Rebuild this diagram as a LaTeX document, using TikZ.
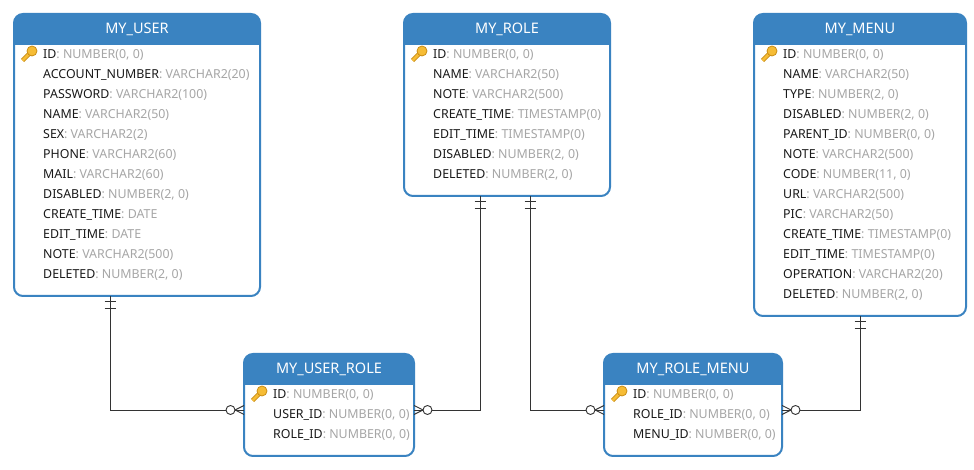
\documentclass[tikz,border=0pt]{standalone}
\usepackage{fontspec}
\setmainfont{Noto Sans}
\usetikzlibrary{positioning}
\definecolor{hdr}{HTML}{3A83C1}
\definecolor{typegray}{HTML}{A6A6A6}
\definecolor{ln}{HTML}{333333}
\definecolor{keyfill}{HTML}{F6BC35}
\definecolor{keyedge}{HTML}{C98D14}
\newcommand{\fld}[2]{#1\textcolor{typegray}{: #2}}
\newcommand{\tblhead}[2]{%
  \begin{scope}
    \clip (#1.north west) rectangle ([yshift=-31pt]#1.north east);
    \fill[hdr,rounded corners=9pt] (#1.south west) rectangle (#1.north east);
  \end{scope}
  \node[titletxt,below=0pt of #1.north] (#1title) {#2};
  \begin{scope}[shift={([xshift=15pt,yshift=-40pt]#1.north west)}]
    \draw[keyedge,line width=4.4pt] (-6.5,-6.5) -- (2,2);
    \draw[keyfill,line width=2.6pt] (-6.5,-6.5) -- (2,2);
    \draw[keyedge,fill=keyfill,line width=.8pt] (3,3) circle (5);
  \end{scope}}
\newcommand{\crowfoot}[2]{%
  \begin{scope}[shift={(#1)},xscale=#2]
    \draw[rel] (0,4.5) -- (9,0) -- (0,-4.5);
    \draw[rel,fill=white] (13.5,0) circle (4.5);
  \end{scope}}
\newcommand{\onebars}[1]{%
  \begin{scope}[shift={(#1)}]
    \draw[rel] (-5.5,-5) -- (5.5,-5) (-5.5,-12) -- (5.5,-12);
  \end{scope}}
\tikzset{
  tbl/.style={draw=hdr,line width=2pt,fill=white,rounded corners=9pt,outer sep=0pt,inner sep=0pt,anchor=north west},
  titletxt/.style={text=white,font=\fontsize{14.5}{17}\selectfont,minimum height=31pt,inner sep=0pt},
  rows/.style={align=left,inner sep=0pt,text=black!90,font=\fontsize{12.4}{20}\selectfont},
  rel/.style={draw=ln,line width=.9pt},
}
\begin{document}
\begin{tikzpicture}[x=1pt,y=1pt]
  \useasboundingbox[fill=white] (0,0) rectangle (974,470);
  % tables
  \node[tbl,minimum width=246pt,minimum height=282pt] (user) at (14,456) {};
  \node[tbl,minimum width=206pt,minimum height=182pt] (role) at (404,456) {};
  \node[tbl,minimum width=212pt,minimum height=302pt] (menu) at (754,456) {};
  \node[tbl,minimum width=170pt,minimum height=102pt] (userrole) at (244,116) {};
  \node[tbl,minimum width=178pt,minimum height=102pt] (rolemenu) at (604,116) {};
  \tblhead{user}{MY\_USER}
  \tblhead{role}{MY\_ROLE}
  \tblhead{menu}{MY\_MENU}
  \tblhead{userrole}{MY\_USER\_ROLE}
  \tblhead{rolemenu}{MY\_ROLE\_MENU}
  % columns
  \node[rows,below right=35.5pt and 29pt of user.north west] (userrows) {\fld{ID}{NUMBER(0, 0)}\\
    \fld{ACCOUNT\_NUMBER}{VARCHAR2(20)}\\
    \fld{PASSWORD}{VARCHAR2(100)}\\
    \fld{NAME}{VARCHAR2(50)}\\
    \fld{SEX}{VARCHAR2(2)}\\
    \fld{PHONE}{VARCHAR2(60)}\\
    \fld{MAIL}{VARCHAR2(60)}\\
    \fld{DISABLED}{NUMBER(2, 0)}\\
    \fld{CREATE\_TIME}{DATE}\\
    \fld{EDIT\_TIME}{DATE}\\
    \fld{NOTE}{VARCHAR2(500)}\\
    \fld{DELETED}{NUMBER(2, 0)}};
  \node[rows,below right=35.5pt and 29pt of role.north west] (rolerows) {\fld{ID}{NUMBER(0, 0)}\\
    \fld{NAME}{VARCHAR2(50)}\\
    \fld{NOTE}{VARCHAR2(500)}\\
    \fld{CREATE\_TIME}{TIMESTAMP(0)}\\
    \fld{EDIT\_TIME}{TIMESTAMP(0)}\\
    \fld{DISABLED}{NUMBER(2, 0)}\\
    \fld{DELETED}{NUMBER(2, 0)}};
  \node[rows,below right=35.5pt and 29pt of menu.north west] (menurows) {\fld{ID}{NUMBER(0, 0)}\\
    \fld{NAME}{VARCHAR2(50)}\\
    \fld{TYPE}{NUMBER(2, 0)}\\
    \fld{DISABLED}{NUMBER(2, 0)}\\
    \fld{PARENT\_ID}{NUMBER(0, 0)}\\
    \fld{NOTE}{VARCHAR2(500)}\\
    \fld{CODE}{NUMBER(11, 0)}\\
    \fld{URL}{VARCHAR2(500)}\\
    \fld{PIC}{VARCHAR2(50)}\\
    \fld{CREATE\_TIME}{TIMESTAMP(0)}\\
    \fld{EDIT\_TIME}{TIMESTAMP(0)}\\
    \fld{OPERATION}{VARCHAR2(20)}\\
    \fld{DELETED}{NUMBER(2, 0)}};
  \node[rows,below right=35.5pt and 29pt of userrole.north west] (userrolerows) {\fld{ID}{NUMBER(0, 0)}\\
    \fld{USER\_ID}{NUMBER(0, 0)}\\
    \fld{ROLE\_ID}{NUMBER(0, 0)}};
  \node[rows,below right=35.5pt and 29pt of rolemenu.north west] (rolemenurows) {\fld{ID}{NUMBER(0, 0)}\\
    \fld{ROLE\_ID}{NUMBER(0, 0)}\\
    \fld{MENU\_ID}{NUMBER(0, 0)}};
  % relations
  \draw[rel] ([xshift=-27pt]user.south) |- ([yshift=-5pt]userrole.west);
  \draw[rel] ([xshift=-27pt]role.south) |- ([yshift=-5pt]userrole.east);
  \draw[rel] ([xshift=23pt]role.south) |- ([yshift=-5pt]rolemenu.west);
  \draw[rel] (menu.south) |- ([yshift=-5pt]rolemenu.east);
  \onebars{[xshift=-27pt]user.south}
  \onebars{[xshift=-27pt]role.south}
  \onebars{[xshift=23pt]role.south}
  \onebars{menu.south}
  \crowfoot{[yshift=-5pt]userrole.west}{-1}
  \crowfoot{[yshift=-5pt]userrole.east}{1}
  \crowfoot{[yshift=-5pt]rolemenu.west}{-1}
  \crowfoot{[yshift=-5pt]rolemenu.east}{1}
\end{tikzpicture}
\end{document}
